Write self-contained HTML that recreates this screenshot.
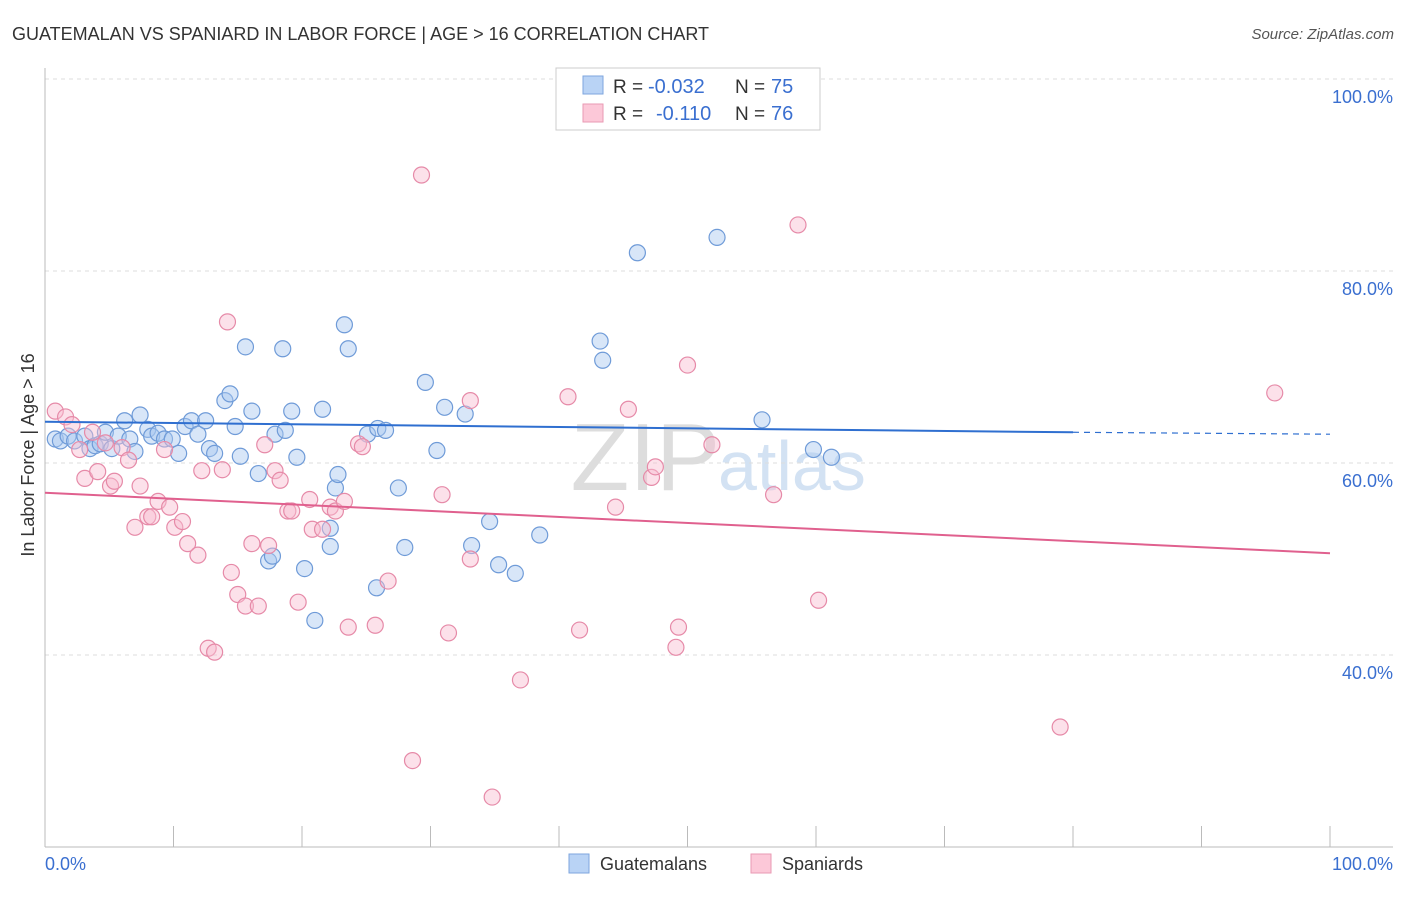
<!DOCTYPE html>
<html><head><meta charset="utf-8"><style>
body{margin:0;background:#fff;font-family:"Liberation Sans",sans-serif;}
svg text{font-family:"Liberation Sans",sans-serif;}
</style></head><body>
<svg id="c" width="1406" height="892">
<text x="12" y="40" font-size="18" fill="#333">GUATEMALAN VS SPANIARD IN LABOR FORCE | AGE &gt; 16 CORRELATION CHART</text>
<text x="1394" y="39" font-size="15" fill="#555" font-style="italic" text-anchor="end">Source: ZipAtlas.com</text>
<text x="720" y="490" font-size="96" fill="#ddd" text-anchor="end" font-family="Liberation Serif">ZIP</text>
<text x="718" y="490" font-size="70" fill="#d3e2f3">atlas</text>
<g id="grid"></g><g id="marks"></g>
<text transform="translate(34,455) rotate(-90)" font-size="18" fill="#333" text-anchor="middle">In Labor Force | Age &gt; 16</text>
<text x="45" y="870" font-size="18" fill="#3a6fd0">0.0%</text>
<text x="1393" y="870" font-size="18" fill="#3a6fd0" text-anchor="end">100.0%</text>
<g>
<rect x="556" y="68" width="264" height="62" fill="#fff" stroke="#ccc"/>
<rect x="583" y="76" width="20" height="18" fill="#b9d3f5" stroke="#7ea6de"/>
<rect x="583" y="104" width="20" height="18" fill="#fcc8d8" stroke="#e99ab3"/>
<text x="613" y="93" font-size="19" fill="#333">R =</text>
<text x="648" y="93" font-size="20" fill="#3a6fd0">-0.032</text>
<text x="735" y="93" font-size="19" fill="#333">N =</text>
<text x="771" y="93" font-size="20" fill="#3a6fd0">75</text>
<text x="613" y="120" font-size="19" fill="#333">R =</text>
<text x="656" y="120" font-size="20" fill="#3a6fd0">-0.110</text>
<text x="735" y="120" font-size="19" fill="#333">N =</text>
<text x="771" y="120" font-size="20" fill="#3a6fd0">76</text>
</g>
<g>
<rect x="569" y="854" width="20" height="19" fill="#b9d3f5" stroke="#7ea6de"/>
<text x="600" y="870" font-size="18" fill="#333">Guatemalans</text>
<rect x="751" y="854" width="20" height="19" fill="#fcc8d8" stroke="#e99ab3"/>
<text x="782" y="870" font-size="18" fill="#333">Spaniards</text>
</g>
</svg>
<script>
const yTicks=[40,60,80,100];
const blueX=[0.8,1.2,1.8,2.3,3.1,3.5,3.9,4.3,4.7,5.2,5.7,6.2,6.6,7.0,7.4,8.0,8.3,8.8,9.3,9.9,10.4,10.9,11.4,11.9,12.5,12.8,13.2,14.0,14.4,14.8,15.2,15.6,16.1,16.6,17.4,17.7,17.9,18.7,18.5,19.2,19.6,20.2,21.0,21.6,22.2,22.6,22.2,23.3,23.6,22.8,25.1,25.9,26.5,25.8,27.5,28.0,29.6,30.5,31.1,32.7,33.2,34.6,35.3,36.6,38.5,43.2,43.4,46.1,52.3,55.8,59.8,61.2];
const blueY=[62.5,62.3,62.8,62.3,62.8,61.5,61.8,62.0,63.2,61.5,62.8,64.4,62.5,61.2,65.0,63.5,62.8,63.1,62.5,62.5,61.0,63.8,64.4,63.0,64.4,61.5,61.0,66.5,67.2,63.8,60.7,72.1,65.4,58.9,49.8,50.3,63.0,63.4,71.9,65.4,60.6,49.0,43.6,65.6,53.2,57.4,51.3,74.4,71.9,58.8,63.0,63.6,63.4,47.0,57.4,51.2,68.4,61.3,65.8,65.1,51.4,53.9,49.4,48.5,52.5,72.7,70.7,81.9,83.5,64.5,61.4,60.6];
const pinkX=[0.8,1.6,2.1,2.7,3.1,3.7,4.1,4.7,5.1,5.4,6.0,6.5,7.0,7.4,8.0,8.3,8.8,9.3,9.7,10.1,10.7,11.1,11.9,12.2,12.7,13.2,13.8,14.2,14.5,15.0,15.6,16.1,16.6,17.1,17.4,17.9,18.3,18.9,19.2,19.7,20.6,20.8,21.6,22.2,22.6,23.3,23.6,24.4,24.7,25.7,26.7,28.6,29.3,30.9,31.4,33.1,33.1,34.8,37.0,40.7,41.6,44.4,45.4,47.2,47.5,49.3,49.1,50.0,51.9,56.7,58.6,60.2,79.0,95.7];
const pinkY=[65.4,64.8,64.0,61.4,58.4,63.2,59.1,62.1,57.6,58.1,61.6,60.3,53.3,57.6,54.4,54.4,56.0,61.4,55.4,53.3,53.9,51.6,50.4,59.2,40.7,40.3,59.3,74.7,48.6,46.3,45.1,51.6,45.1,61.9,51.4,59.2,58.2,55.0,55.0,45.5,56.2,53.1,53.1,55.4,55.0,56.0,42.9,62.0,61.7,43.1,47.7,29.0,90.0,56.7,42.3,50.0,66.5,25.2,37.4,66.9,42.6,55.4,65.6,58.5,59.6,42.9,40.8,70.2,61.9,56.7,84.8,45.7,32.5,67.3];
const X=v=>45+v*12.85, Y=v=>655-(v-40)*9.6;
const NS='http://www.w3.org/2000/svg';
const g=document.getElementById('grid'), m=document.getElementById('marks');
function mk(p,t,a){const e=document.createElementNS(NS,t);for(const k in a)e.setAttribute(k,a[k]);p.appendChild(e);return e;}
yTicks.forEach(t=>{
 const l=mk(g,'line',{x1:45,x2:1393,y1:Y(t),y2:Y(t),stroke:'#ddd','stroke-dasharray':'4,4'});
 
 
 const tx=mk(g,'text',{x:1393,y:Y(t)+24,'font-size':18,fill:'#3a6fd0','text-anchor':'end'});tx.textContent=t.toFixed(1)+'%';
 
 
});
const ax=mk(g,'line',{x1:45,x2:45,y1:68,y2:847,stroke:'#bbb'});


const bx=mk(g,'line',{x1:45,x2:1393,y1:847,y2:847,stroke:'#bbb'});


for(let i=1;i<=10;i++){const t=mk(g,'line',{x1:X(i*10),x2:X(i*10),y1:826,y2:847,stroke:'#bbb'});
 
 }
function dots(xs,ys,fill,stroke,name){xs.forEach((x,i)=>{const c=mk(m,'circle',{cx:X(x),cy:Y(ys[i]),r:8,fill:fill,'fill-opacity':0.45,stroke:stroke,'stroke-width':1.2});
 
 });}
dots(blueX,blueY,'#a9c8f0','#6f9bd8','guatemalan-point');
dots(pinkX,pinkY,'#f8bcd0','#e68aa8','spaniard-point');
const t1=mk(m,'line',{x1:X(0),y1:Y(64.3),x2:X(80),y2:Y(63.2),stroke:'#2f6fd0','stroke-width':2});


const t2=mk(m,'line',{x1:X(80),y1:Y(63.2),x2:X(100),y2:Y(63.0),stroke:'#2f6fd0','stroke-width':1.2,'stroke-dasharray':'6,5'});


const t3=mk(m,'line',{x1:X(0),y1:Y(56.9),x2:X(100),y2:Y(50.6),stroke:'#e0608e','stroke-width':2});


</script>
</body></html>
